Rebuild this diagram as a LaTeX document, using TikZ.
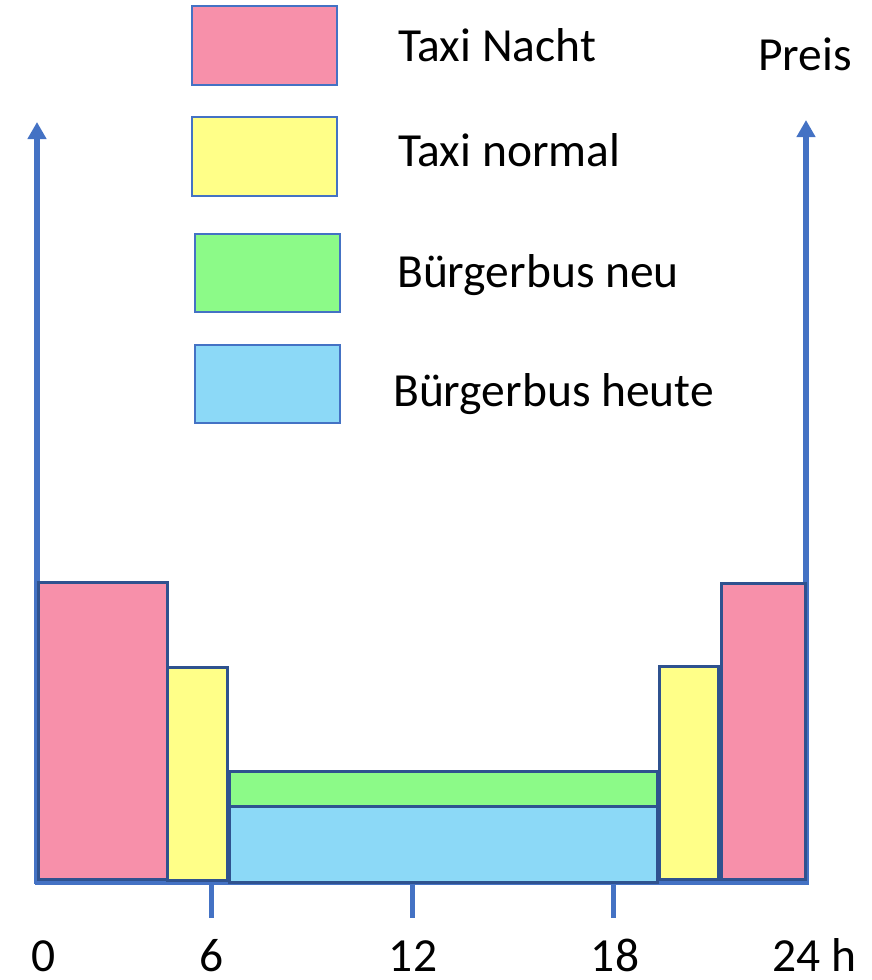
\documentclass[tikz,border=0pt]{standalone}
\usepackage{fontspec}
\setmainfont{Carlito}
\usetikzlibrary{arrows.meta}
\definecolor{axisblue}{HTML}{4472C4}
\definecolor{edgeblue}{HTML}{2F528F}
\definecolor{cpink}{HTML}{F790AA}
\definecolor{cyellow}{HTML}{FFFF88}
\definecolor{cgreen}{HTML}{8CFA88}
\definecolor{cblue}{HTML}{8CD9F7}
\begin{document}
\begin{tikzpicture}[x=1pt,y=-1pt,
  bar/.style={draw=edgeblue, line width=3pt, anchor=north west, inner sep=0pt, outer sep=0pt},
  legbox/.style={draw=axisblue, line width=2.4pt, anchor=north west, inner sep=0pt, outer sep=0pt, minimum width=145pt},
  axisline/.style={draw=axisblue, line width=5.5pt},
  tickline/.style={draw=axisblue, line width=5pt},
  arrowtip/.style={-{Triangle[length=17pt,width=18pt]}},
  lbl/.style={font=\fontsize{47.5}{56}\selectfont, inner sep=0pt, anchor=base west},
  num/.style={font=\fontsize{47.5}{56}\selectfont, inner sep=0pt, anchor=base}]
\useasboundingbox (0,0) rectangle (871,980);

% axes
\coordinate (lo) at (37,884);
\coordinate (lt) at (37,122);
\coordinate (ro) at (806,884);
\coordinate (rt) at (806,120);
\coordinate (xa) at (35,882);
\coordinate (xb) at (809,882);
\draw[axisline,arrowtip] (lo) -- (lt);
\draw[axisline,arrowtip] (ro) -- (rt);
\draw[axisline] (xa) -- (xb);

% ticks
\coordinate (t6a) at (211,882);  \coordinate (t6b) at (211,918);
\coordinate (t12a) at (412,882); \coordinate (t12b) at (412,918);
\coordinate (t18a) at (613,882); \coordinate (t18b) at (613,918);
\draw[tickline] (t6a) -- (t6b);
\draw[tickline] (t12a) -- (t12b);
\draw[tickline] (t18a) -- (t18b);

% bars
\node[bar, fill=cpink, minimum width=129pt, minimum height=297pt] (pinkL) at (38,582) {};
\node[bar, fill=cyellow, minimum width=60pt, minimum height=213pt] (yellowL) at (167,667) {};
\node[bar, fill=cgreen, minimum width=428pt, minimum height=35pt] (green) at (229,771) {};
\node[bar, fill=cblue, minimum width=428pt, minimum height=76pt] (blue) at (229,806) {};
\node[bar, fill=cyellow, minimum width=59pt, minimum height=213pt] (yellowR) at (659,666) {};
\node[bar, fill=cpink, minimum width=84pt, minimum height=296pt] (pinkR) at (721,583) {};

% legend
\node[legbox, fill=cpink, minimum height=79pt] (lgpink) at (192,6) {};
\node[legbox, fill=cyellow, minimum height=79pt] (lgyellow) at (192,117) {};
\node[legbox, fill=cgreen, minimum height=78pt] (lggreen) at (195,234) {};
\node[legbox, fill=cblue, minimum height=78pt] (lgblue) at (195,345) {};

\node[lbl] (txn) at (398,61.7) {Taxi Nacht};
\node[lbl] (txo) at (398,166.7) {Taxi normal};
\node[lbl] (bbn) at (397,287.7) {Bürgerbus neu};
\node[lbl] (bbh) at (393,406.7) {Bürgerbus heute};
\node[lbl] (preis) at (758,70) {Preis};

% tick labels
\node[num] (n0) at (44,971) {0};
\node[num] (n6) at (212,971) {6};
\node[num] (n12) at (413,971) {12};
\node[num] (n18) at (615,971) {18};
\node[lbl] (n24) at (772,971) {24 h};
\end{tikzpicture}
\end{document}
